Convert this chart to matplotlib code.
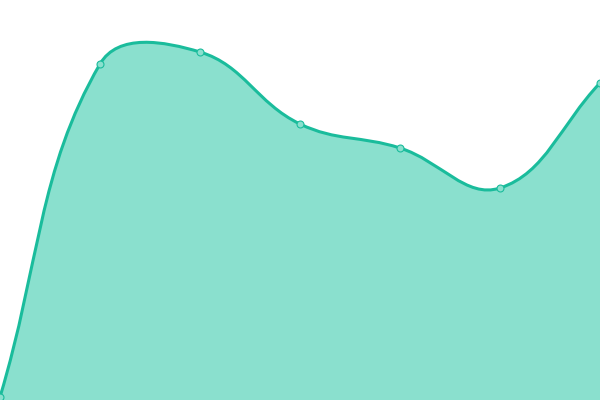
import numpy as np
import matplotlib.pyplot as plt
from matplotlib.path import Path
from matplotlib.patches import PathPatch

# point positions and values (pixel-ish units)
xs = [0, 100, 200, 300, 400, 500, 600]
values = [3, 336, 348, 276, 252, 212, 317]

line_color = '#1abc9c'
fill_color = '#8ae0ce'
tension = 0.4


def control_points(px, py, t):
    # cardinal spline control points, like chart.js cubic interpolation
    n = len(px)
    pts = np.column_stack([px, py]).astype(float)
    cps = []
    for i in range(n):
        prev = pts[max(i - 1, 0)]
        cur = pts[i]
        nxt = pts[min(i + 1, n - 1)]
        d01 = np.hypot(*(cur - prev))
        d12 = np.hypot(*(nxt - cur))
        tot = d01 + d12
        s01 = d01 / tot if tot else 0
        s12 = d12 / tot if tot else 0
        c_prev = cur - t * s01 * (nxt - prev)
        c_next = cur + t * s12 * (nxt - prev)
        cps.append((c_prev, c_next))
    return pts, cps


pts, cps = control_points(xs, values, tension)

verts = [tuple(pts[0])]
codes = [Path.MOVETO]
for i in range(1, len(pts)):
    verts += [tuple(cps[i - 1][1]), tuple(cps[i][0]), tuple(pts[i])]
    codes += [Path.CURVE4] * 3

fig = plt.figure(figsize=(6, 4), dpi=100)
ax = fig.add_axes([0, 0, 1, 1])
ax.set_xlim(0, 600)
ax.set_ylim(0, 400)
ax.axis('off')

area_verts = verts + [(xs[-1], 0), (xs[0], 0), verts[0]]
area_codes = codes + [Path.LINETO, Path.LINETO, Path.CLOSEPOLY]
ax.add_patch(PathPatch(Path(area_verts, area_codes), facecolor=fill_color,
                       edgecolor='none'))
ax.add_patch(PathPatch(Path(verts, codes), facecolor='none',
                       edgecolor=line_color, linewidth=2.2, capstyle='round'))
ax.plot(xs, values, 'o', ms=5, mfc=fill_color, mec=line_color, mew=0.8,
        clip_on=True)

fig.savefig('out.png', dpi=100)
